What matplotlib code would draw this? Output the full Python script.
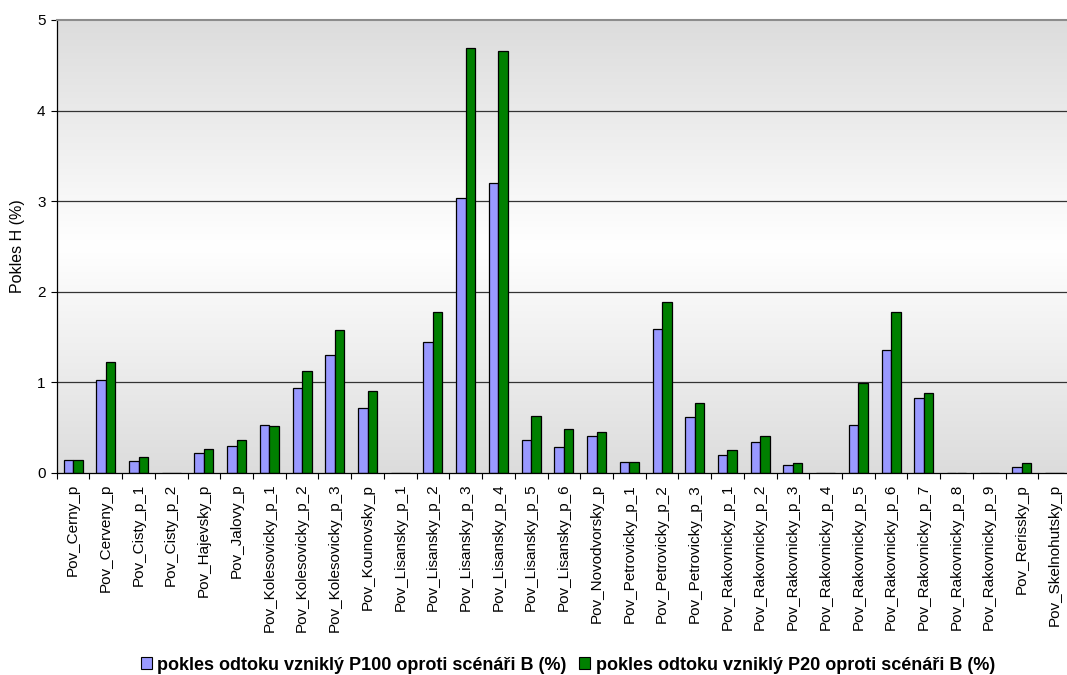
import numpy as np
import matplotlib
matplotlib.use("Agg")
import matplotlib.pyplot as plt
from matplotlib.patches import Patch

plt.rcParams['font.family'] = ['Liberation Sans', 'DejaVu Sans']

categories = [
    "Pov_Cerny_p", "Pov_Cerveny_p", "Pov_Cisty_p_1", "Pov_Cisty_p_2",
    "Pov_Hajevsky_p", "Pov_Jalovy_p", "Pov_Kolesovicky_p_1", "Pov_Kolesovicky_p_2",
    "Pov_Kolesovicky_p_3", "Pov_Kounovsky_p", "Pov_Lisansky_p_1", "Pov_Lisansky_p_2",
    "Pov_Lisansky_p_3", "Pov_Lisansky_p_4", "Pov_Lisansky_p_5", "Pov_Lisansky_p_6",
    "Pov_Novodvorsky_p", "Pov_Petrovicky_p_1", "Pov_Petrovicky_p_2", "Pov_Petrovicky_p_3",
    "Pov_Rakovnicky_p_1", "Pov_Rakovnicky_p_2", "Pov_Rakovnicky_p_3", "Pov_Rakovnicky_p_4",
    "Pov_Rakovnicky_p_5", "Pov_Rakovnicky_p_6", "Pov_Rakovnicky_p_7", "Pov_Rakovnicky_p_8",
    "Pov_Rakovnicky_p_9", "Pov_Rerissky_p", "Pov_Skelnohutsky_p",
]

p100 = [0.14, 1.02, 0.125, 0.0, 0.22, 0.30, 0.53, 0.94, 1.30, 0.71, 0.0, 1.44,
        3.03, 3.20, 0.36, 0.28, 0.41, 0.12, 1.59, 0.61, 0.19, 0.34, 0.09, 0.0,
        0.53, 1.36, 0.83, 0.0, 0.0, 0.065, 0.0]
p20 = [0.14, 1.22, 0.17, 0.0, 0.265, 0.36, 0.52, 1.125, 1.58, 0.905, 0.0, 1.78,
       4.69, 4.66, 0.63, 0.485, 0.455, 0.12, 1.89, 0.77, 0.25, 0.41, 0.11, 0.0,
       0.99, 1.77, 0.875, 0.0, 0.0, 0.11, 0.0]

series_names = ["pokles odtoku vzniklý P100 oproti scénáři B (%)",
                "pokles odtoku vzniklý P20 oproti scénáři B (%)"]
y_label = "Pokles H (%)"
y_ticks = [0, 1, 2, 3, 4, 5]

blue = "#9999ff"
green = "#008000"

W, H = 1067, 675
fig = plt.figure(figsize=(W / 100, H / 100), dpi=100)
ax = fig.add_axes([56.7 / W, 1 - 472.7 / H, 31 * 32.72 / W, (472.7 - 20) / H])

n = len(categories)
x = np.arange(n)
ax.set_xlim(-0.5, n - 0.5)
ax.set_ylim(0, 5)

# vertical gradient: grey at top and bottom, white in the middle
yy = np.linspace(5, 0, 400)
shade = 220 + 35 * (1 - np.abs(yy - 2.5) / 2.5)
grad = np.repeat((shade / 255.0)[:, None], 3, axis=1)[:, None, :]
ax.imshow(grad, extent=[-0.5, n - 0.5, 0, 5], aspect="auto", zorder=0,
          interpolation="bilinear")

for v in y_ticks[1:-1]:
    ax.axhline(v, color="#333333", lw=0.9, zorder=1)

bw = 0.29
ax.bar(x - bw / 2, p100, bw, color=blue, edgecolor="black", lw=0.9, zorder=2,
       label=series_names[0])
ax.bar(x + bw / 2, p20, bw, color=green, edgecolor="black", lw=0.9, zorder=2,
       label=series_names[1])

ax.set_yticks(y_ticks)
ax.tick_params(axis="y", length=4.5, width=0.8, pad=3.5, labelsize=11)
ax.set_xticks(x)
ax.set_xticklabels(categories, rotation=90, fontsize=11)
ax.tick_params(axis="x", which="major", length=0, pad=8)
ax.set_xticks(np.arange(n + 1) - 0.5, minor=True)
ax.tick_params(axis="x", which="minor", length=4, width=0.8)

for s in ("left", "bottom"):
    ax.spines[s].set_color("black")
    ax.spines[s].set_linewidth(0.9)
ax.spines["top"].set_color("#8c8c8c")
ax.spines["top"].set_linewidth(1.5)
ax.spines["right"].set_visible(False)

fig.text(18 / W, 1 - 246 / H, y_label, rotation=90, ha="center", va="center",
         fontsize=11.5)

handles = [Patch(facecolor=blue, edgecolor="black", lw=0.8),
           Patch(facecolor=green, edgecolor="black", lw=0.8)]
fig.legend(handles, series_names, loc="center", ncol=2,
           bbox_to_anchor=(568 / W, 1 - 665 / H), frameon=False,
           prop={"weight": "bold", "size": 13},
           handlelength=0.6, handleheight=0.6, handletextpad=0.3,
           columnspacing=0.7, borderaxespad=0, borderpad=0)

fig.savefig("out.png", dpi=100)
